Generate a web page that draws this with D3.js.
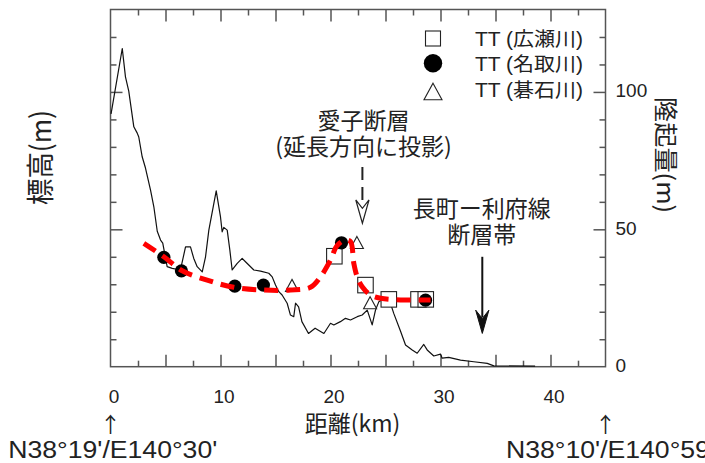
<!DOCTYPE html>
<html><head><meta charset="utf-8">
<script src="https://cdn.jsdelivr.net/npm/d3@7"></script>
<style>body{margin:0;background:#fff}svg{display:block}</style>
</head><body><svg id="c" width="705" height="463"></svg>
<script>
// ---------- data ----------
const profileKm = [0.05,1.07,1.36,1.66,2.12,2.43,2.57,2.88,3.18,3.64,3.94,4.25,4.55,4.75,4.9,5.15,5.61,6.36,6.82,7.27,7.57,7.88,8.34,8.64,8.94,9.61,10.0,10.15,10.3,10.61,10.85,11.06,11.52,11.97,12.27,12.57,13.03,13.64,14.39,14.7,15.0,15.3,15.6,16.06,16.36,16.66,16.82,17.1,17.4,18.0,18.6,19.4,20.0,20.3,20.9,21.36,21.82,22.43,22.88,23.34,23.79,24.09,24.39,25.15,25.45,25.75,26.36,26.82,27.43,27.88,28.48,28.79,29.39,30.0,30.15,30.75,31.82,33.03,34.25,34.85,38.6];
const profileElev = [92.0,115.8,105.5,100.3,87.3,85.0,83.6,76.4,72.3,64.3,58.2,49.3,46.1,45.0,41.8,36.4,35.8,35.2,43.6,43.6,39.4,36.4,34.5,40.0,49.7,64.0,54.5,49.1,50.7,49.7,42.4,35.2,37.6,39.4,38.2,37.0,35.2,34.8,34.0,32.7,29.7,27.3,26.1,23.1,18.8,18.2,23.1,21.8,16.4,12.1,14.0,12.1,15.8,15.2,16.4,17.6,17.0,18.2,18.8,20.6,15.2,20.6,23.6,25.5,23.1,19.4,13.0,7.9,6.1,4.9,8.1,6.1,3.9,4.6,3.1,3.4,2.4,1.8,1.2,0.3,0.2];

const hirosegawaKm = [20.35,23.18,25.3,28.0,28.66];
const hirosegawaUplift = [40.2,29.7,24.5,24.5,24.5];
const natorigawaKm = [4.85,6.45,11.3,13.9,21.0,28.64];
const natorigawaUplift = [39.8,34.9,29.3,29.7,45.1,24.2];
const goishigawaKm = [16.5,22.4,23.6];
const goishigawaUplift = [29.6,45.2,23.3];

const trendKm = [3.03,4.85,6.52,8.79,11.2,13.94,16.36,18.18,19.09,20.0,20.6,21.36,21.82,22.12,22.43,22.88,23.64,24.55,26.36,29.1];
const trendUplift = [44.9,40.0,34.9,31.5,28.9,27.9,27.9,28.9,32.7,38.8,44.1,46.1,45.5,37.6,32.7,29.1,26.1,24.9,24.3,24.3];

const xTickLabels = [0,10,20,30,40];
const upliftTickLabels = [0,50,100];
const legendLabels = ["TT (広瀬川)","TT (名取川)","TT (碁石川)"];
const aikoLabel = ["愛子断層","(延長方向に投影)"];
const nagamachiLabel = ["長町ー利府線","断層帯"];
const aikoFaultKm = 22.9;      // projected Aiko fault
const nagamachiKm = 33.8;      // Nagamachi-Rifu fault zone

// ---------- layout ----------
const svg = d3.select("#c");
const L = 110.5, R = 605.5, T = 9.5, B = 366.7;
const x = d3.scaleLinear().domain([0,45]).range([L,R]);
const yUp = d3.scaleLinear().domain([0,130]).range([B,T]);   // uplift (right axis)
const yEl = d3.scaleLinear().domain([0,130]).range([B,T]);   // elevation (left axis, unlabelled)
const axisCol = "#555";
const latin = "'Liberation Sans', Arial, 'Noto Sans CJK JP', sans-serif";
const cjk = "'Noto Sans CJK JP', 'Liberation Sans', sans-serif";

svg.append("rect").attr("width",705).attr("height",463).attr("fill","#fff");

// ticks
const xMinor = d3.range(0,45.01,2.5).filter(v=>v%5!==0);
const xMajor = d3.range(5,45,5);
const yMinor = d3.range(10,130,10).filter(v=>v%50!==0);
const yMajor = [50,100];
function tickAxis(axis, vals, len, tr){
  const g = svg.append("g").attr("transform",tr)
    .call(axis.tickValues(vals).tickSize(-len).tickFormat(""));
  g.select(".domain").remove();
  g.selectAll("line").attr("stroke",axisCol).attr("stroke-width",1.5);
  return g;
}
tickAxis(d3.axisBottom(x), xMinor, 6, `translate(0,${B})`);
tickAxis(d3.axisBottom(x), xMajor, 12, `translate(0,${B})`);
tickAxis(d3.axisTop(x), xMinor, 6, `translate(0,${T})`);
tickAxis(d3.axisTop(x), xMajor, 12, `translate(0,${T})`);
tickAxis(d3.axisLeft(yEl), yMinor, 6, `translate(${L},0)`);
tickAxis(d3.axisLeft(yEl), yMajor, 12, `translate(${L},0)`);
tickAxis(d3.axisRight(yUp), yMinor, 6, `translate(${R},0)`);
tickAxis(d3.axisRight(yUp), yMajor, 12, `translate(${R},0)`);

// tick labels
const gx = svg.append("g").attr("transform",`translate(0,${B})`)
  .call(d3.axisBottom(x).tickValues(xTickLabels).tickSize(0).tickPadding(22.5).tickFormat(d3.format("d")));
gx.select(".domain").remove();
gx.selectAll("text").attr("font-family",latin).attr("font-size",19).attr("fill","#222").attr("dx",3);
const gy = svg.append("g").attr("transform",`translate(${R},0)`)
  .call(d3.axisRight(yUp).tickValues(upliftTickLabels).tickSize(0).tickPadding(10).tickFormat(d3.format("d")));
gy.select(".domain").remove();
gy.selectAll("text").attr("font-family",latin).attr("font-size",19).attr("fill","#222").attr("dy","0.25em");

// frame
svg.append("rect").attr("x",L).attr("y",T).attr("width",R-L).attr("height",B-T)
  .attr("fill","none").attr("stroke",axisCol).attr("stroke-width",1.5);

// elevation profile
const profile = profileKm.map((k,i)=>[k,profileElev[i]]);
svg.append("path").datum(profile)
  .attr("d", d3.line().x(d=>x(d[0])).y(d=>yEl(d[1])))
  .attr("fill","none").attr("stroke","#111").attr("stroke-width",1.2).attr("stroke-linejoin","round");

// markers
const sq = 15.5, cr = 6.6, tw = 13, th = 12;
svg.append("g").selectAll("rect").data(hirosegawaKm.map((k,i)=>[k,hirosegawaUplift[i]])).join("rect")
  .attr("x",d=>x(d[0])-sq/2).attr("y",d=>yUp(d[1])-sq/2).attr("width",sq).attr("height",sq)
  .attr("fill","#fff").attr("stroke","#222").attr("stroke-width",1.1);
const triPath = (w,h)=>`M0,${-h/2}L${w/2},${h/2}L${-w/2},${h/2}Z`;
svg.append("g").selectAll("path").data(goishigawaKm.map((k,i)=>[k,goishigawaUplift[i]])).join("path")
  .attr("transform",d=>`translate(${x(d[0])},${yUp(d[1])})`).attr("d",triPath(tw,th))
  .attr("fill","#fff").attr("stroke","#222").attr("stroke-width",1.1);
svg.append("g").selectAll("circle").data(natorigawaKm.map((k,i)=>[k,natorigawaUplift[i]])).join("circle")
  .attr("cx",d=>x(d[0])).attr("cy",d=>yUp(d[1])).attr("r",cr).attr("fill","#000");

// trend (red dashed)
svg.append("path").datum(trendKm.map((k,i)=>[k,trendUplift[i]]))
  .attr("d", d3.line().curve(d3.curveCatmullRom.alpha(0.5)).x(d=>x(d[0])).y(d=>yUp(d[1])))
  .attr("fill","none").attr("stroke","#ff0000").attr("stroke-width",5).attr("stroke-dasharray","14,8");

// legend
const lg = svg.append("g");
const lx = 433, ly = [38.5,63.3,91.5];
lg.append("rect").attr("x",lx-7.5).attr("y",ly[0]-7.5).attr("width",15).attr("height",15)
  .attr("fill","#fff").attr("stroke","#222").attr("stroke-width",1.1);
lg.append("circle").attr("cx",lx).attr("cy",ly[1]).attr("r",9.2).attr("fill","#000");
lg.append("path").attr("transform",`translate(${lx},${ly[2]})`).attr("d",triPath(18,16.5))
  .attr("fill","#fff").attr("stroke","#222").attr("stroke-width",1.1);
lg.selectAll("text").data(legendLabels).join("text")
  .attr("x",475).attr("y",(d,i)=>[45.5,70.5,97][i]).text(d=>d)
  .attr("font-family",latin).attr("font-size",19.5).attr("fill","#222")
  .attr("textLength",108).attr("lengthAdjust","spacingAndGlyphs");

// annotations
function txt(s,xx,yy,size,opts={}){
  const t = svg.append("text").attr("x",xx).attr("y",yy).text(s)
    .attr("font-family",opts.family||cjk).attr("font-size",size).attr("fill","#222")
    .attr("text-anchor",opts.anchor||"middle");
  if(opts.len) t.attr("textLength",opts.len).attr("lengthAdjust","spacingAndGlyphs");
  return t;
}
function block(lines, xx, yy, dy, size){
  const t = svg.append("text").attr("font-family",cjk).attr("font-size",size)
    .attr("fill","#222").attr("text-anchor","middle");
  lines.forEach((s,i)=>t.append("tspan").attr("x",xx).attr("y",yy+i*dy).text(s));
  return t;
}
block(aikoLabel, 363.5, 128.5, 26.5, 23);
block(nagamachiLabel, 481.8, 216.5, 26, 23);

// dashed arrow (Aiko fault)
const ax = x(aikoFaultKm);
svg.append("line").attr("x1",ax).attr("x2",ax).attr("y1",yUp(72.7)).attr("y2",yUp(58.5))
  .attr("stroke","#222").attr("stroke-width",2).attr("stroke-dasharray","13,7");
const headPath = "M-6.6,-23.3L0,0L6.6,-23.3L0,-15Z";
svg.append("path").attr("transform",`translate(${ax},${yUp(52.2)})`).attr("d",headPath)
  .attr("fill","#fff").attr("stroke","#222").attr("stroke-width",1.2).attr("stroke-linejoin","miter");
// solid arrow (Nagamachi-Rifu)
const nx = x(nagamachiKm);
svg.append("line").attr("x1",nx).attr("x2",nx).attr("y1",yUp(40)).attr("y2",yUp(18))
  .attr("stroke","#111").attr("stroke-width",2);
svg.append("path").attr("transform",`translate(${nx},${yUp(12.1)})`).attr("d",headPath)
  .attr("fill","#111").attr("stroke","#111").attr("stroke-width",1);

// axis titles
txt("距離(km)",352.5,432,23);
svg.append("text").attr("transform","translate(38.5,157.5) rotate(-90) scale(1,1.12)")
  .attr("text-anchor","middle").attr("dominant-baseline","central")
  .attr("font-family",cjk).attr("font-size",25).attr("fill","#222")
  .attr("textLength",95).attr("lengthAdjust","spacingAndGlyphs").text("標高(m)");
svg.append("text").attr("transform","translate(667,155) rotate(90)")
  .attr("text-anchor","middle").attr("dominant-baseline","central")
  .attr("font-family",cjk).attr("font-size",24).attr("fill","#222")
  .attr("textLength",116).attr("lengthAdjust","spacingAndGlyphs").text("隆起量(m)");

// end-point coordinates
txt("↑",x(0),432,21,{family:cjk});
txt("↑",x(45),432,21,{family:cjk});
txt("N38°19'/E140°30'",8.3,458,23,{family:latin,anchor:"start",len:209});
txt("N38°10'/E140°59'",506,458,23,{family:latin,anchor:"start",len:209});
</script></body></html>
